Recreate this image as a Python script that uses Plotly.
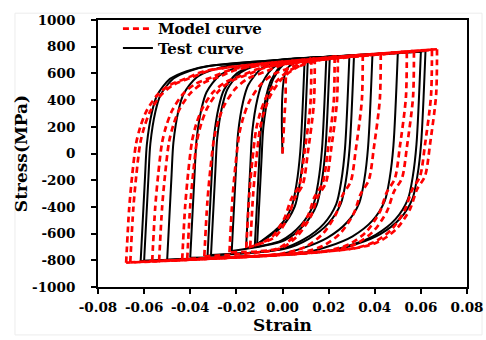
import plotly.graph_objects as go

# ---------------- data ----------------
# Reversal (tip) points of the strain-controlled cycles
TEST_RIGHT_STRAIN = [0.0096, 0.0110, 0.0190, 0.0205, 0.0290, 0.0310, 0.0390, 0.0500, 0.0600, 0.0620]
TEST_RIGHT_STRESS = [708, 712, 720, 722, 730, 733, 740, 752, 763, 768]
TEST_LEFT_STRAIN = [-0.0110, -0.0120, -0.0158, -0.0220, -0.0310, -0.0325, -0.0400, -0.0500, -0.0600, -0.0615]
TEST_LEFT_STRESS = [-680, -690, -710, -730, -760, -765, -780, -795, -803, -806]

MODEL_RIGHT_STRAIN = [0.0125, 0.0140, 0.0226, 0.0240, 0.0348, 0.0426, 0.0539, 0.0570, 0.0648, 0.0670]
MODEL_RIGHT_STRESS = [712, 716, 726, 728, 740, 748, 760, 764, 776, 781]
MODEL_LEFT_STRAIN = [-0.0140, -0.0157, -0.0230, -0.0339, -0.0413, -0.0435, -0.0535, -0.0565, -0.0660, -0.0678]
MODEL_LEFT_STRESS = [-700, -708, -740, -770, -790, -795, -805, -808, -815, -818]

# Branch shapes measured from the largest loops (stress change vs strain change from the tip)
TEST_ASC_DSTRESS = [0, 635, 876, 1117, 1241, 1365, 1423, 1460]
TEST_ASC_DSTRAIN = [0, 0.0019, 0.0027, 0.0049, 0.0071, 0.0127, 0.0200, 0.0287]
TEST_DESC_DSTRESS = [0, 693, 934, 1109, 1255, 1372, 1445, 1496]
TEST_DESC_DSTRAIN = [0, 0.0019, 0.0035, 0.0057, 0.0110, 0.0196, 0.0296, 0.0410]
MODEL_ASC_DSTRESS = [0, 402, 650, 891, 1015, 1132, 1256, 1329, 1380, 1438]
MODEL_ASC_DSTRAIN = [0, 0.0013, 0.0026, 0.0043, 0.0061, 0.0087, 0.0135, 0.0187, 0.0260, 0.0348]
MODEL_DESC_DSTRESS = [0, 343, 708, 949, 1051, 1197, 1343, 1438, 1489]
MODEL_DESC_DSTRAIN = [0, 0.0004, 0.0030, 0.0052, 0.0087, 0.0117, 0.0174, 0.0248, 0.0348]

X_TICK_VALS = [-0.08, -0.06, -0.04, -0.02, 0.0, 0.02, 0.04, 0.06, 0.08]
X_TICK_TEXT = ["-0.08", "-0.06", "-0.04", "-0.02", "0.00", "0.02", "0.04", "0.06", "0.08"]
Y_TICK_VALS = [-1000, -800, -600, -400, -200, 0, 200, 400, 600, 800, 1000]
Y_TICK_TEXT = ["-1000", "-800", "-600", "-400", "-200", "0", "200", "400", "600", "800", "1000"]


def branch(e0, s0, e1, s1, dsig, deps):
    sign = 1 if e1 > e0 else -1
    tot_s = abs(s1 - s0)
    tot_e = abs(e1 - e0)
    xs, ys = [e0], [s0]
    for ds, de in zip(dsig[1:], deps[1:]):
        if ds >= tot_s - 15 or de >= tot_e * 0.85:
            break
        xs.append(e0 + sign * de)
        ys.append(s0 + sign * ds)
    xs.append(e1)
    ys.append(s1)
    return xs, ys


def path(rs, rsig, ls, lsig, asc, desc):
    tips = [(0.0, 0.0)]
    for i in range(len(rs)):
        tips.append((rs[i], rsig[i]))
        tips.append((ls[i], lsig[i]))
    tips.append((rs[-1], rsig[-1]))
    X, Y = [], []
    for (e0, s0), (e1, s1) in zip(tips[:-1], tips[1:]):
        if e1 > e0:
            xs, ys = branch(e0, s0, e1, s1, *asc)
        else:
            xs, ys = branch(e0, s0, e1, s1, *desc)
        X += xs + [None]
        Y += ys + [None]
    return X, Y


tx, ty = path(TEST_RIGHT_STRAIN, TEST_RIGHT_STRESS, TEST_LEFT_STRAIN, TEST_LEFT_STRESS,
              (TEST_ASC_DSTRESS, TEST_ASC_DSTRAIN), (TEST_DESC_DSTRESS, TEST_DESC_DSTRAIN))
mx, my = path(MODEL_RIGHT_STRAIN, MODEL_RIGHT_STRESS, MODEL_LEFT_STRAIN, MODEL_LEFT_STRESS,
              (MODEL_ASC_DSTRESS, MODEL_ASC_DSTRAIN), (MODEL_DESC_DSTRESS, MODEL_DESC_DSTRAIN))

leg_font = dict(family="DejaVu Serif", size=15, color="black", weight="bold")

fig = go.Figure()
fig.add_trace(go.Scatter(x=tx, y=ty, mode="lines", name="Test curve", legend="legend2",
                         line=dict(color="black", width=2, shape="spline", smoothing=0.8),
                         connectgaps=False))
fig.add_trace(go.Scatter(x=mx, y=my, mode="lines", name="Model curve", legend="legend",
                         line=dict(color="#ff0000", width=2.7, dash="6px,4px", shape="spline", smoothing=0.8),
                         connectgaps=False))

tick_font = dict(family="DejaVu Serif", size=13.5, color="black", weight="bold")
title_font = dict(family="DejaVu Serif", size=17, color="black", weight="bold")

fig.update_layout(
    width=486, height=340,
    margin=dict(l=98, r=19, t=14, b=53),
    paper_bgcolor="white", plot_bgcolor="white",
    showlegend=True,
    legend=dict(x=0.054, y=0.967, xanchor="left", yanchor="middle", bgcolor="rgba(0,0,0,0)",
                font=leg_font, itemwidth=30),
    legend2=dict(x=0.054, y=0.894, xanchor="left", yanchor="middle", bgcolor="rgba(0,0,0,0)",
                 font=leg_font, itemwidth=30),
    xaxis=dict(range=[-0.08, 0.08], tickvals=X_TICK_VALS, ticktext=X_TICK_TEXT, automargin=False,
               showgrid=False, zeroline=False, showline=True, linecolor="black", linewidth=2,
               mirror=True, ticks="outside", ticklen=5, tickwidth=2, tickcolor="black",
               tickfont=tick_font, ticklabelstandoff=2,
               title=dict(text="Strain", font=title_font, standoff=2)),
    yaxis=dict(range=[-1000, 1000], tickvals=Y_TICK_VALS, ticktext=Y_TICK_TEXT, automargin=False,
               showgrid=False, zeroline=False, showline=True, linecolor="black", linewidth=2,
               mirror=True, ticks="outside", ticklen=5, tickwidth=2, tickcolor="black",
               tickfont=tick_font, ticklabelstandoff=13,
               title=dict(text="Stress(MPa)", font=title_font, standoff=0)),
    shapes=[dict(type="rect", xref="paper", yref="paper", x0=-0.225, x1=1.0407, y0=-0.1795, y1=1.0256,
                 line=dict(color="#ececec", width=1), layer="below")],
)

fig.write_html("out.html", config={"displayModeBar": False},
               post_script="document.body.style.margin='0';")
